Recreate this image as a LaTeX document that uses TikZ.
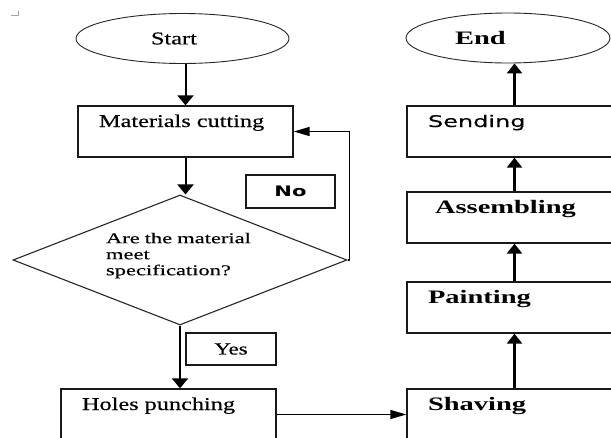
\documentclass[tikz,border=0pt]{standalone}
\usepackage{fontspec}
\usetikzlibrary{arrows.meta}
\usetikzlibrary{shapes.geometric}
\newfontfamily\wordserif[FakeStretch=1.35,FakeBold=0.4]{Liberation Serif}
\newfontfamily\wordbold[FakeStretch=1.5]{Liberation Serif}
\newfontfamily\wordask[FakeStretch=1.5,FakeBold=0.4]{Liberation Serif}
\newfontfamily\wordsans[FakeStretch=1.5,FakeBold=0.2]{DejaVu Sans}
\newfontfamily\wordsansno[FakeStretch=1.45]{DejaVu Sans}

\begin{document}
\begin{tikzpicture}[x=1pt,y=-1pt,line join=miter]
	\tikzstyle{terminal}=[draw=black!85,ellipse,line width=0.9pt,minimum height=50pt,
		inner sep=0pt,align=left,font=\wordserif\fontsize{18}{21}\selectfont]
	\tikzstyle{stepbox}=[draw=black!90,line width=1.3pt,minimum width=215pt,text width=173pt,
		inner xsep=21pt,inner ysep=0pt,text height=21pt,text depth=30pt,align=left,
		font=\wordserif\fontsize{18}{21}\selectfont]
	\tikzstyle{boldbox}=[stepbox,font=\wordbold\bfseries\fontsize{19}{22}\selectfont]
	\tikzstyle{decision}=[draw=black!85,diamond,aspect=2.57,line width=1.1pt,
		minimum width=334pt,minimum height=130pt,inner sep=0pt,text width=148pt,
		align=left,text depth=44pt,font=\wordask\fontsize{15}{16}\selectfont]
	\tikzstyle{answer}=[draw=black!90,line width=1.3pt,inner sep=0pt]
	\tikzstyle{flowdown}=[-{Triangle[width=16pt,length=10pt]},line width=2pt]
	\tikzstyle{flowup}=[-{Triangle[width=15pt,length=10pt]},line width=2.8pt]
	\tikzstyle{flowside}=[-{Triangle[width=9pt,length=16pt]},line width=1.3pt]

	\path[use as bounding box,clip] (0,0) rectangle (611,437);

	% corner mark
	\draw[black!35,line width=0.8pt] (11,15) -- (18,15) -- (18,11);

	% left column
	\node[terminal,minimum width=213pt,text width=63pt] (start) at (182.5,38.5) {Start};
	\node[stepbox]                  (cut)   at (185.5,131.5) {Materials cutting};
	\node[decision]                 (check) at (180,260)     {Are the material\\ meet\\ specification?};
	\node[stepbox]                  (holes) at (168.5,414.5) {Holes punching};

	\node[answer,minimum width=89pt,minimum height=33pt,
		font=\wordsansno\bfseries\fontsize{14.5}{17}\selectfont] (nolabel) at (290.5,191.5) {No};
	\node[answer,minimum width=90pt,minimum height=32pt,
		font=\wordserif\fontsize{17}{20}\selectfont] (yeslabel) at (231,349) {Yes};

	% right column
	\node[boldbox]  (shave)    at (514.5,414.5) {Shaving};
	\node[boldbox]  (paint)    at (514.5,307.5) {Painting};
	\node[boldbox]  (assemble) at (514.5,217.5) {\hspace*{7pt}Assembling};
	\node[stepbox,font=\wordsans\fontsize{16}{19}\selectfont] (send) at (514.5,131.5) {Sending};
	\node[terminal,minimum width=204pt,text width=106pt,
		font=\wordbold\bfseries\fontsize{19}{22}\selectfont] (finish) at (508,38) {End};

	\draw[flowdown] (start.south -| cut.north) -- (cut.north);
	\draw[flowdown] (cut.south) -- (cut.south |- check.north);
	\draw[flowside] (check.east) -- ++(2,0) |- (cut.east);
	\draw[flowdown] (check.south) -- (check.south |- holes.north);
	\draw[flowside] (holes.east) -- (shave.west);

	\path[flowup]
	(shave) edge (paint)
	(paint) edge (assemble)
	(assemble) edge (send)
	(send.north) edge (send.north |- finish.south);
\end{tikzpicture}
\end{document}
